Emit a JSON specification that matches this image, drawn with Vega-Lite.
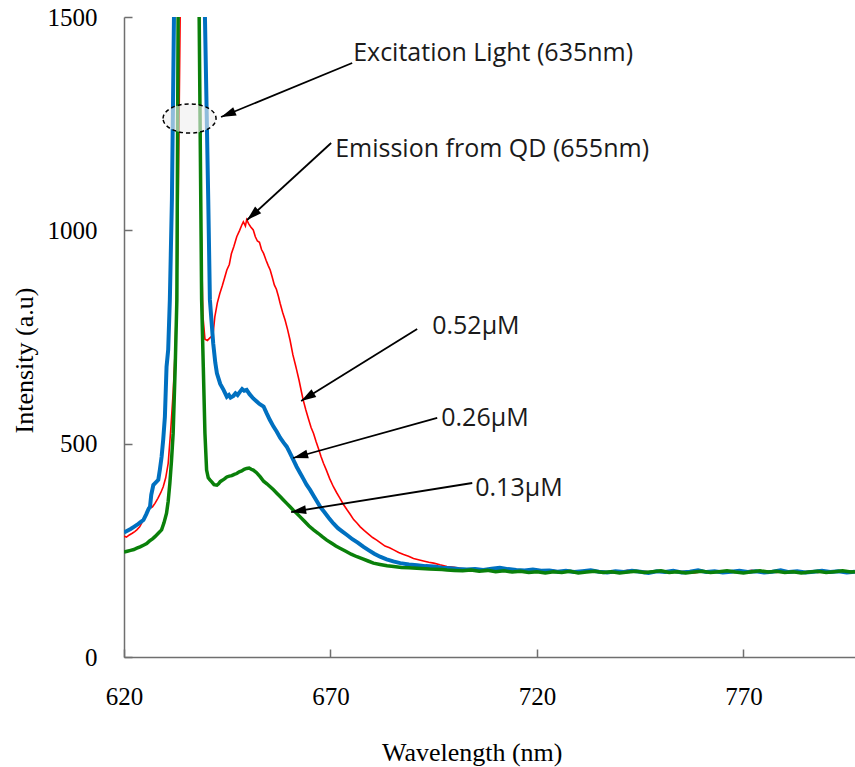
{
  "$schema": "https://vega.github.io/schema/vega-lite/v6.json",
  "width": 731,
  "height": 640,
  "autosize": {"type": "none"},
  "padding": {"left": 124, "top": 17, "right": 0, "bottom": 110},
  "background": "white",
  "config": {"view": {"stroke": null}},
  "datasets": {
    "red": [
      {"wl":620.0,"v":283},{"wl":620.6,"v":281},{"wl":621.3,"v":286},{"wl":622.0,"v":290},{"wl":622.6,"v":294},{"wl":623.1,"v":298},{"wl":623.8,"v":305},{"wl":624.5,"v":318},{"wl":625.0,"v":327},{"wl":625.5,"v":337},{"wl":626.2,"v":348},{"wl":626.9,"v":352},{"wl":627.5,"v":360},{"wl":628.2,"v":372},{"wl":628.9,"v":385},{"wl":629.5,"v":399},{"wl":630.1,"v":420},{"wl":630.7,"v":454},{"wl":631.3,"v":530},{"wl":631.9,"v":620},{"wl":632.4,"v":720},{"wl":633.0,"v":950},{"wl":633.6,"v":1500},{"wl":634.8,"v":4000},{"wl":638.3,"v":1500},{"wl":638.7,"v":1000},{"wl":639.1,"v":800},{"wl":639.6,"v":745},{"wl":640.2,"v":742},{"wl":640.8,"v":748},{"wl":641.3,"v":752},{"wl":641.6,"v":760},{"wl":642.0,"v":798},{"wl":642.6,"v":830},{"wl":643.2,"v":852},{"wl":643.8,"v":870},{"wl":644.4,"v":890},{"wl":644.9,"v":907},{"wl":645.5,"v":920},{"wl":646.0,"v":945},{"wl":646.6,"v":962},{"wl":647.3,"v":985},{"wl":648.0,"v":1000},{"wl":648.5,"v":1012},{"wl":648.9,"v":1020},{"wl":649.4,"v":1010},{"wl":649.7,"v":1025},{"wl":650.2,"v":1015},{"wl":650.7,"v":1008},{"wl":651.3,"v":1001},{"wl":651.8,"v":985},{"wl":652.3,"v":975},{"wl":652.8,"v":972},{"wl":653.3,"v":955},{"wl":653.8,"v":946},{"wl":654.4,"v":930},{"wl":654.9,"v":918},{"wl":655.4,"v":907},{"wl":655.9,"v":890},{"wl":656.4,"v":872},{"wl":656.9,"v":862},{"wl":657.4,"v":845},{"wl":657.8,"v":829},{"wl":658.4,"v":808},{"wl":659.0,"v":790},{"wl":659.6,"v":768},{"wl":660.2,"v":743},{"wl":660.9,"v":708},{"wl":661.5,"v":685},{"wl":661.8,"v":673},{"wl":662.4,"v":648},{"wl":663.0,"v":620},{"wl":663.4,"v":602},{"wl":664.0,"v":580},{"wl":664.6,"v":560},{"wl":665.3,"v":538},{"wl":665.9,"v":524},{"wl":666.5,"v":505},{"wl":667.1,"v":488},{"wl":667.7,"v":470},{"wl":668.3,"v":454},{"wl":669.0,"v":438},{"wl":669.8,"v":418},{"wl":670.7,"v":399},{"wl":671.5,"v":385},{"wl":672.3,"v":372},{"wl":673.1,"v":358},{"wl":674.0,"v":345},{"wl":674.8,"v":334},{"wl":675.6,"v":322},{"wl":676.4,"v":314},{"wl":677.2,"v":305},{"wl":678.2,"v":296},{"wl":679.2,"v":288},{"wl":680.2,"v":280},{"wl":681.2,"v":274},{"wl":682.2,"v":267},{"wl":683.2,"v":260},{"wl":684.3,"v":256},{"wl":685.3,"v":251},{"wl":686.5,"v":245},{"wl":687.7,"v":240},{"wl":688.9,"v":236},{"wl":690.1,"v":231},{"wl":691.3,"v":228},{"wl":692.5,"v":225},{"wl":693.8,"v":222},{"wl":695.0,"v":220},{"wl":696.5,"v":216},{"wl":698.2,"v":212},{"wl":700,"v":210},{"wl":702,"v":207},{"wl":704,"v":205},{"wl":706,"v":206},{"wl":708,"v":203},{"wl":710,"v":204},{"wl":712,"v":202},{"wl":714,"v":203},{"wl":716,"v":201},{"wl":718,"v":200},{"wl":720,"v":202},{"wl":722,"v":200},{"wl":724,"v":203},{"wl":726,"v":199},{"wl":728,"v":201},{"wl":730,"v":198},{"wl":732,"v":202},{"wl":734,"v":199},{"wl":736,"v":201},{"wl":738,"v":197},{"wl":740,"v":200},{"wl":742,"v":203},{"wl":744,"v":199},{"wl":746,"v":201},{"wl":748,"v":198},{"wl":750,"v":200},{"wl":752,"v":202},{"wl":754,"v":199},{"wl":756,"v":201},{"wl":758,"v":197},{"wl":760,"v":200},{"wl":762,"v":202},{"wl":764,"v":199},{"wl":766,"v":201},{"wl":768,"v":198},{"wl":770,"v":200},{"wl":772,"v":203},{"wl":774,"v":199},{"wl":776,"v":201},{"wl":778,"v":198},{"wl":780,"v":200},{"wl":782,"v":202},{"wl":784,"v":199},{"wl":786,"v":201},{"wl":788,"v":198},{"wl":790,"v":200},{"wl":792,"v":202},{"wl":794,"v":199},{"wl":796,"v":201},{"wl":797,"v":200}
    ],
    "blue": [
      {"wl":620.0,"v":292},{"wl":620.8,"v":296},{"wl":621.6,"v":300},{"wl":622.4,"v":305},{"wl":623.2,"v":310},{"wl":624.0,"v":316},{"wl":624.7,"v":321},{"wl":625.4,"v":335},{"wl":626.0,"v":348},{"wl":626.3,"v":352},{"wl":626.6,"v":380},{"wl":627.1,"v":403},{"wl":627.6,"v":408},{"wl":628.3,"v":415},{"wl":628.7,"v":440},{"wl":629.1,"v":469},{"wl":629.5,"v":510},{"wl":629.9,"v":563},{"wl":630.3,"v":680},{"wl":630.7,"v":720},{"wl":631.1,"v":837},{"wl":631.6,"v":1071},{"wl":632.1,"v":1500},{"wl":634.5,"v":5000},{"wl":639.6,"v":1500},{"wl":640.4,"v":1071},{"wl":640.8,"v":837},{"wl":641.6,"v":735},{"wl":642.1,"v":690},{"wl":642.5,"v":665},{"wl":643.3,"v":640},{"wl":644.1,"v":626},{"wl":644.9,"v":610},{"wl":645.4,"v":614},{"wl":645.8,"v":608},{"wl":646.5,"v":612},{"wl":647.0,"v":618},{"wl":647.5,"v":614},{"wl":648.1,"v":622},{"wl":648.6,"v":628},{"wl":649.1,"v":624},{"wl":649.7,"v":626},{"wl":650.4,"v":616},{"wl":651.3,"v":606},{"wl":652.0,"v":600},{"wl":652.8,"v":593},{"wl":653.8,"v":587},{"wl":654.5,"v":572},{"wl":655.3,"v":556},{"wl":656.2,"v":540},{"wl":657.0,"v":528},{"wl":657.8,"v":514},{"wl":658.6,"v":503},{"wl":659.4,"v":493},{"wl":660.2,"v":478},{"wl":661.0,"v":462},{"wl":661.8,"v":446},{"wl":662.6,"v":432},{"wl":663.4,"v":418},{"wl":664.2,"v":404},{"wl":665.1,"v":391},{"wl":665.9,"v":378},{"wl":666.7,"v":365},{"wl":667.5,"v":352},{"wl":668.5,"v":340},{"wl":669.6,"v":326},{"wl":670.7,"v":313},{"wl":671.8,"v":302},{"wl":672.9,"v":294},{"wl":674.0,"v":286},{"wl":675.3,"v":276},{"wl":676.6,"v":268},{"wl":678.0,"v":258},{"wl":679.3,"v":250},{"wl":680.6,"v":242},{"wl":682.0,"v":235},{"wl":683.6,"v":229},{"wl":685.2,"v":224},{"wl":686.9,"v":220},{"wl":689.0,"v":217},{"wl":691.0,"v":215},{"wl":693.0,"v":213},{"wl":695.0,"v":212},{"wl":697.0,"v":209},{"wl":699.0,"v":208},{"wl":701,"v":206},{"wl":703,"v":205},{"wl":705,"v":206},{"wl":707,"v":204},{"wl":709,"v":207},{"wl":711,"v":209},{"wl":713,"v":206},{"wl":715,"v":204},{"wl":717,"v":203},{"wl":719,"v":205},{"wl":721,"v":202},{"wl":723,"v":203},{"wl":725,"v":200},{"wl":727,"v":202},{"wl":729,"v":199},{"wl":731,"v":201},{"wl":733,"v":203},{"wl":735,"v":200},{"wl":737,"v":198},{"wl":739,"v":201},{"wl":741,"v":199},{"wl":743,"v":202},{"wl":745,"v":200},{"wl":747,"v":197},{"wl":749,"v":201},{"wl":751,"v":199},{"wl":753,"v":202},{"wl":755,"v":198},{"wl":757,"v":200},{"wl":759,"v":203},{"wl":761,"v":199},{"wl":763,"v":201},{"wl":765,"v":198},{"wl":767,"v":200},{"wl":769,"v":202},{"wl":771,"v":199},{"wl":773,"v":201},{"wl":775,"v":198},{"wl":777,"v":200},{"wl":779,"v":203},{"wl":781,"v":199},{"wl":783,"v":201},{"wl":785,"v":198},{"wl":787,"v":200},{"wl":789,"v":202},{"wl":791,"v":199},{"wl":793,"v":201},{"wl":795,"v":198},{"wl":797,"v":200}
    ],
    "green": [
      {"wl":620.0,"v":246},{"wl":620.8,"v":248},{"wl":621.6,"v":250},{"wl":622.4,"v":252},{"wl":623.1,"v":255},{"wl":623.9,"v":258},{"wl":624.7,"v":262},{"wl":625.5,"v":266},{"wl":626.2,"v":272},{"wl":626.9,"v":277},{"wl":627.5,"v":282},{"wl":628.3,"v":290},{"wl":629.1,"v":298},{"wl":629.7,"v":315},{"wl":630.3,"v":337},{"wl":630.7,"v":365},{"wl":631.1,"v":407},{"wl":631.5,"v":460},{"wl":631.9,"v":524},{"wl":632.4,"v":680},{"wl":632.8,"v":837},{"wl":633.1,"v":1500},{"wl":635.0,"v":5000},{"wl":638.2,"v":1500},{"wl":638.8,"v":837},{"wl":639.2,"v":680},{"wl":639.6,"v":524},{"wl":640.0,"v":438},{"wl":640.4,"v":420},{"wl":640.8,"v":415},{"wl":641.3,"v":410},{"wl":641.8,"v":404},{"wl":642.5,"v":403},{"wl":642.9,"v":406},{"wl":643.3,"v":411},{"wl":643.8,"v":414},{"wl":644.4,"v":418},{"wl":644.9,"v":422},{"wl":645.5,"v":424},{"wl":646.1,"v":425},{"wl":646.7,"v":428},{"wl":647.3,"v":430},{"wl":647.9,"v":434},{"wl":648.5,"v":436},{"wl":649.1,"v":440},{"wl":649.7,"v":442},{"wl":650.3,"v":443},{"wl":650.8,"v":440},{"wl":651.3,"v":438},{"wl":652.1,"v":432},{"wl":653.0,"v":422},{"wl":653.8,"v":412},{"wl":654.6,"v":406},{"wl":655.4,"v":399},{"wl":656.2,"v":392},{"wl":657.0,"v":384},{"wl":657.8,"v":376},{"wl":658.6,"v":368},{"wl":659.4,"v":360},{"wl":660.2,"v":352},{"wl":661.0,"v":344},{"wl":661.8,"v":337},{"wl":662.6,"v":329},{"wl":663.7,"v":318},{"wl":664.8,"v":307},{"wl":665.9,"v":298},{"wl":667.0,"v":290},{"wl":668.0,"v":282},{"wl":669.1,"v":274},{"wl":670.2,"v":267},{"wl":671.3,"v":260},{"wl":672.3,"v":255},{"wl":673.7,"v":248},{"wl":675.0,"v":241},{"wl":676.4,"v":235},{"wl":677.8,"v":230},{"wl":679.1,"v":225},{"wl":680.4,"v":220},{"wl":682.0,"v":217},{"wl":683.7,"v":214},{"wl":685.3,"v":212},{"wl":687.2,"v":210},{"wl":689.0,"v":209},{"wl":690.9,"v":208},{"wl":694.0,"v":206},{"wl":697.0,"v":205},{"wl":698.2,"v":204},{"wl":700,"v":203},{"wl":702,"v":202},{"wl":704,"v":204},{"wl":706,"v":201},{"wl":708,"v":203},{"wl":710,"v":200},{"wl":712,"v":202},{"wl":714,"v":199},{"wl":716,"v":201},{"wl":718,"v":198},{"wl":720,"v":200},{"wl":722,"v":197},{"wl":724,"v":200},{"wl":726,"v":198},{"wl":728,"v":201},{"wl":730,"v":197},{"wl":732,"v":199},{"wl":734,"v":201},{"wl":736,"v":198},{"wl":738,"v":200},{"wl":740,"v":197},{"wl":742,"v":199},{"wl":744,"v":201},{"wl":746,"v":198},{"wl":748,"v":200},{"wl":750,"v":202},{"wl":752,"v":198},{"wl":754,"v":200},{"wl":756,"v":197},{"wl":758,"v":199},{"wl":760,"v":201},{"wl":762,"v":198},{"wl":764,"v":200},{"wl":766,"v":202},{"wl":768,"v":199},{"wl":770,"v":197},{"wl":772,"v":200},{"wl":774,"v":202},{"wl":776,"v":199},{"wl":778,"v":201},{"wl":780,"v":198},{"wl":782,"v":200},{"wl":784,"v":197},{"wl":786,"v":199},{"wl":788,"v":201},{"wl":790,"v":198},{"wl":792,"v":200},{"wl":794,"v":202},{"wl":796,"v":199},{"wl":797,"v":200}
    ],
    "arrows": [
      {"id":"exc","wl":675.25,"v":1392.2,"wl2":643.5,"v2":1265.6},
      {"id":"emi","wl":670.16,"v":1204.7,"wl2":649.8,"v2":1024.2},
      {"id":"c52","wl":690.99,"v":768.7,"wl2":662.89,"v2":600.0},
      {"id":"c26","wl":695.84,"v":560.2,"wl2":660.95,"v2":466.4},
      {"id":"c13","wl":704.32,"v":407.8,"wl2":660.47,"v2":339.8}
    ],
    "ellipse": [{"wl":635.87,"v":1262.1}],
    "labels": [
      {"text":"Excitation Light (635nm)","wl":675.49,"v":1396.9},
      {"text":"Emission from QD (655nm)","wl":671.13,"v":1171.9},
      {"text":"0.52μM","wl":694.63,"v":757.0},
      {"text":"0.26μM","wl":696.81,"v":541.4},
      {"text":"0.13μM","wl":705.05,"v":377.3}
    ]
  },
  "encoding": {
    "x": {
      "field": "wl", "type": "quantitative",
      "scale": {"domain": [620, 797], "nice": false, "zero": false},
      "axis": {
        "title": "Wavelength (nm)", "values": [620, 670, 720, 770], "grid": false, "format": "d",
        "domainColor": "#6f6f6f", "domainWidth": 1.5, "tickColor": "#6f6f6f", "tickWidth": 1.5, "tickSize": -8,
        "labelFont": "Liberation Serif", "labelFontSize": 25, "labelColor": "#000000", "labelPadding": 35,
        "labelFlush": false, "labelOverlap": false,
        "titleFont": "Liberation Serif", "titleFontSize": 26, "titleFontWeight": "normal", "titleColor": "#000000",
        "titleX": 347.7, "titleY": 103, "titleBaseline": "alphabetic", "titleAlign": "center"
      }
    },
    "y": {
      "field": "v", "type": "quantitative",
      "scale": {"domain": [0, 1500], "nice": false},
      "axis": {
        "title": "Intensity (a.u)", "values": [0, 500, 1000, 1500], "grid": false, "format": "d",
        "domainColor": "#6f6f6f", "domainWidth": 1.5, "tickColor": "#6f6f6f", "tickWidth": 1.5, "tickSize": -8,
        "labelFont": "Liberation Serif", "labelFontSize": 25, "labelColor": "#000000", "labelPadding": 35,
        "labelFlush": false, "labelOverlap": false,
        "titleFont": "Liberation Serif", "titleFontSize": 26, "titleFontWeight": "normal", "titleColor": "#000000",
        "titleX": -92, "titleY": 343, "titleBaseline": "alphabetic", "titleAlign": "center", "titleAngle": 270
      }
    }
  },
  "layer": [
    {"data": {"name": "red"}, "mark": {"type": "line", "color": "#ff0000", "strokeWidth": 1.6, "clip": true}},
    {"data": {"name": "blue"}, "mark": {"type": "line", "color": "#0070c0", "strokeWidth": 4, "clip": true}},
    {"data": {"name": "green"}, "mark": {"type": "line", "color": "#0a800a", "strokeWidth": 3.5, "clip": true}},
    {"data": {"name": "ellipse"}, "mark": {"type": "point", "shape": "M-1,0 A1,0.55 0 1,1 1,0 A1,0.55 0 1,1 -1,0 Z", "size": 2809, "filled": true, "fill": "#eeeeee", "fillOpacity": 0.6, "stroke": "#000000", "strokeWidth": 1.5, "strokeDash": [4, 3], "opacity": 1}},
    {"data": {"name": "arrows"}, "mark": {"type": "rule", "color": "#000000", "strokeWidth": 1.8}, "encoding": {"x2": {"field": "wl2"}, "y2": {"field": "v2"}}},
    {"data": {"name": "arrows"}, "transform": [{"filter": "datum.id == 'exc'"}], "mark": {"type": "point", "shape": "M0,0 L-0.3,1 L0.3,1 Z", "size": 900, "filled": true, "color": "#000000", "opacity": 1, "angle": 247.6}, "encoding": {"x": {"field": "wl2", "type": "quantitative"}, "y": {"field": "v2", "type": "quantitative"}}},
    {"data": {"name": "arrows"}, "transform": [{"filter": "datum.id == 'emi'"}], "mark": {"type": "point", "shape": "M0,0 L-0.3,1 L0.3,1 Z", "size": 900, "filled": true, "color": "#000000", "opacity": 1, "angle": 227.5}, "encoding": {"x": {"field": "wl2", "type": "quantitative"}, "y": {"field": "v2", "type": "quantitative"}}},
    {"data": {"name": "arrows"}, "transform": [{"filter": "datum.id == 'c52'"}], "mark": {"type": "point", "shape": "M0,0 L-0.3,1 L0.3,1 Z", "size": 900, "filled": true, "color": "#000000", "opacity": 1, "angle": 238.2}, "encoding": {"x": {"field": "wl2", "type": "quantitative"}, "y": {"field": "v2", "type": "quantitative"}}},
    {"data": {"name": "arrows"}, "transform": [{"filter": "datum.id == 'c26'"}], "mark": {"type": "point", "shape": "M0,0 L-0.3,1 L0.3,1 Z", "size": 900, "filled": true, "color": "#000000", "opacity": 1, "angle": 254.5}, "encoding": {"x": {"field": "wl2", "type": "quantitative"}, "y": {"field": "v2", "type": "quantitative"}}},
    {"data": {"name": "arrows"}, "transform": [{"filter": "datum.id == 'c13'"}], "mark": {"type": "point", "shape": "M0,0 L-0.3,1 L0.3,1 Z", "size": 900, "filled": true, "color": "#000000", "opacity": 1, "angle": 260.9}, "encoding": {"x": {"field": "wl2", "type": "quantitative"}, "y": {"field": "v2", "type": "quantitative"}}},
    {"data": {"name": "labels"}, "mark": {"type": "text", "font": "Open Sans", "fontSize": 25, "align": "left", "baseline": "alphabetic", "color": "#1a1a1a"}, "encoding": {"text": {"field": "text"}}}
  ]
}
